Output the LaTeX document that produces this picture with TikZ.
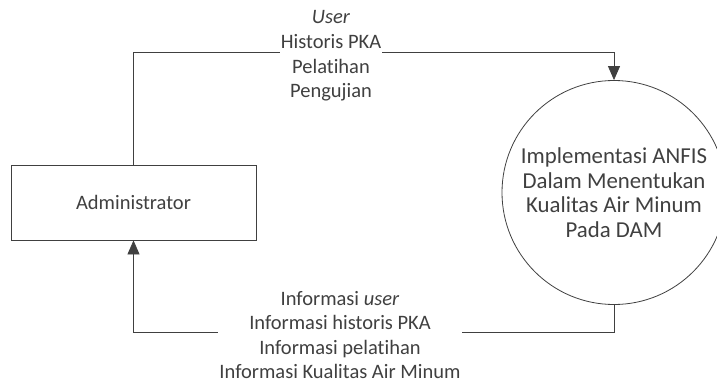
\documentclass[tikz,border=0pt]{standalone}
\usepackage{fontspec}
\setmainfont{Carlito}[Ligatures=NoCommon]
\usetikzlibrary{arrows.meta,positioning,calc}
\definecolor{dfdgray}{HTML}{404040}
\newcommand{\dfdfont}{\fontsize{20.5}{24.6}\selectfont}
\newcommand{\procfont}{\fontsize{22.8}{24.5}\selectfont}
\tikzstyle{entity}=[draw=dfdgray,line width=0.8pt,minimum width=245pt,minimum height=75pt,inner sep=0pt,font=\dfdfont,text=dfdgray]
\tikzstyle{process}=[circle,draw=dfdgray,line width=0.8pt,minimum size=224pt,inner sep=0pt,align=center,font=\procfont,text=dfdgray]
\tikzstyle{flowlabel}=[fill=white,inner xsep=1pt,inner ysep=0pt,align=center,font=\dfdfont,text=dfdgray]
\tikzstyle{flow}=[draw=dfdgray,line width=0.8pt,-{Triangle[length=14pt,width=12pt]}]

\begin{document}
\begin{tikzpicture}[x=1pt,y=-1pt]

  \useasboundingbox (0,0) rectangle (717,383);

  \node[entity] (admin) at (133.5,202.5) {Administrator};
  \node[process] (proc) at (614,192.5) {Implementasi ANFIS\\Dalam Menentukan\\Kualitas Air Minum\\Pada DAM};

  % aliran data
  \draw[flow] (admin.north) -- ++(0,-112) -| (proc.north);
  \draw[flow] (proc.south) -- ++(0,27) -| (admin.south);

  \node[flowlabel] (toplabel) at (331,56) {\textit{User}\\Historis PKA\\Pelatihan\\Pengujian};
  \node[flowlabel] (botlabel) at (340,335) {Informasi \textit{user}\\Informasi historis PKA\\Informasi pelatihan\\Informasi Kualitas Air Minum};

\end{tikzpicture}
\end{document}
